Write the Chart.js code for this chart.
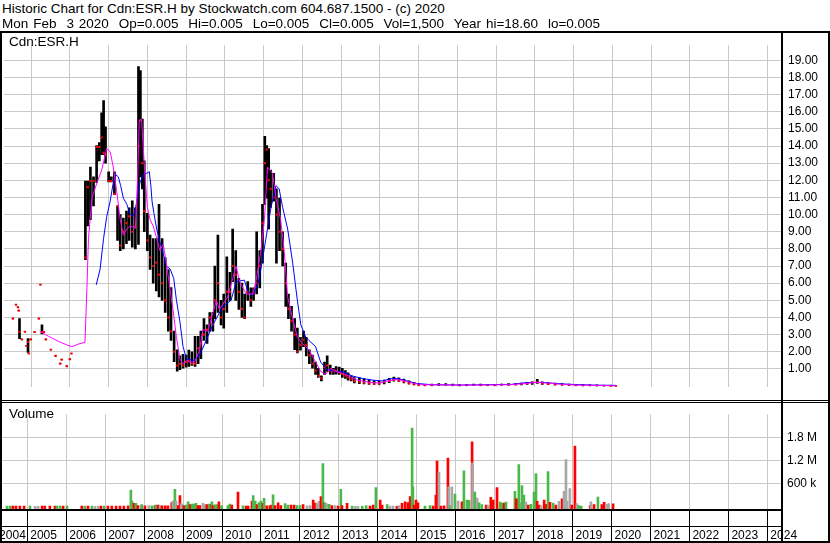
<!DOCTYPE html>
<html>
<head>
<meta charset="utf-8">
<script src="https://cdn.jsdelivr.net/npm/chart.js@4.4.1/dist/chart.umd.min.js"></script>
<style>
  body { margin: 0; background: #fff; }
  #page { position: relative; width: 830px; height: 543px; overflow: hidden; font-family: "Liberation Sans", Arial, sans-serif; }
  .txt { position: absolute; font-size: 13.5px; line-height: 15px; white-space: pre; color: #000; }
  canvas { position: absolute; left: 0; }
  .ln { position: absolute; background: #000; }
</style>
</head>
<body>
<div id="page">
  <canvas id="priceChart" width="830" height="368" style="top:32px"></canvas>
  <canvas id="volChart" width="830" height="141" style="top:402px"></canvas>
  <div class="txt" style="left:2px; top:1px">Historic Chart for Cdn:ESR.H by Stockwatch.com 604.687.1500 - (c) 2020</div>
  <div class="txt" style="left:2px; top:16px; word-spacing:1.2px">Mon Feb  3 2020  Op=0.005  Hi=0.005  Lo=0.005  Cl=0.005  Vol=1,500  Year hi=18.60  lo=0.005</div>
  <div class="txt" style="left:9px; top:34px">Cdn:ESR.H</div>
  <div class="txt" style="left:9px; top:406px">Volume</div>
  <div class="ln" style="left:0; top:31px; width:830px; height:2px"></div>
  <div class="ln" style="left:0; top:31px; width:2px; height:512px"></div>
  <div class="ln" style="left:828px; top:31px; width:2px; height:512px"></div>
  <div class="ln" style="left:781px; top:31px; width:2px; height:511px"></div>
  <div class="ln" style="left:0; top:400px; width:830px; height:1px"></div>
  <div class="ln" style="left:0; top:402px; width:830px; height:1px"></div>
  <div class="ln" style="left:0; top:509px; width:783px; height:2px"></div>
  <div class="ln" style="left:0; top:526px; width:783px; height:1px"></div>
  <div class="ln" style="left:0; top:541px; width:830px; height:2px"></div>
</div>
<script>
// dates are decimal years
const barDate = [
  2004.53, 2004.61, 2004.66, 2004.68, 2004.70, 2004.76, 2004.84, 2004.88, 2004.92, 2004.94, 2004.99,
  2005.09, 2005.20, 2005.24, 2005.28, 2005.33, 2005.38, 2005.51, 2005.63, 2005.75, 2005.79, 2005.92,
  2006.00, 2006.04, 2006.40, 2006.46, 2006.53, 2006.61, 2006.69, 2006.76, 2006.82, 2006.87, 2006.92,
  2007.00, 2007.07, 2007.15, 2007.23, 2007.30, 2007.38, 2007.46, 2007.53, 2007.61, 2007.69, 2007.77,
  2007.82, 2007.87, 2007.92, 2008.00, 2008.07, 2008.15, 2008.23, 2008.30, 2008.38, 2008.46, 2008.54,
  2008.61, 2008.69, 2008.77, 2008.84, 2008.92, 2009.00, 2009.07, 2009.15, 2009.23, 2009.31, 2009.38,
  2009.46, 2009.54, 2009.61, 2009.69, 2009.74, 2009.82, 2009.90, 2009.97, 2010.05, 2010.13, 2010.20,
  2010.28, 2010.36, 2010.44, 2010.51, 2010.59, 2010.67, 2010.74, 2010.82, 2010.90, 2010.97, 2011.03,
  2011.08, 2011.13, 2011.18, 2011.26, 2011.33, 2011.41, 2011.49, 2011.57, 2011.64, 2011.72, 2011.80,
  2011.87, 2011.95, 2012.03, 2012.10, 2012.18, 2012.26, 2012.34, 2012.41, 2012.49, 2012.57, 2012.64,
  2012.72, 2012.80, 2012.87, 2012.95, 2013.03, 2013.11, 2013.18, 2013.26, 2013.34, 2013.47, 2013.59,
  2013.72, 2013.85, 2013.98, 2014.11, 2014.24, 2014.36, 2014.49, 2014.62, 2014.75, 2014.88, 2015.00,
  2015.16, 2015.34, 2015.52, 2015.70, 2015.88, 2016.06, 2016.24, 2016.42, 2016.60, 2016.78, 2016.96,
  2017.14, 2017.32, 2017.50, 2017.65, 2017.80, 2017.93, 2018.06, 2018.19, 2018.34, 2018.52, 2018.70,
  2018.88, 2019.06, 2019.24, 2019.42, 2019.60, 2019.78, 2019.96, 2020.09
];
const barHigh = [
  3.93, 4.74, 4.60, 4.40, 3.93, 2.72, 3.17, 2.34, 2.77, 1.90, 2.72,
  3.15, 3.93, 5.91, 3.57, 3.15, 2.72, 2.12, 1.76, 1.31, 1.54, 1.16,
  1.57, 1.90, 11.96, 11.96, 12.77, 12.20, 14.03, 14.20, 15.93, 16.65, 15.12,
  12.50, 12.20, 12.50, 10.50, 10.00, 9.80, 10.20, 10.40, 10.80, 10.40, 18.64,
  18.40, 15.57, 13.13, 10.08, 8.80, 8.60, 8.60, 10.60, 8.60, 7.50, 6.80,
  5.75, 3.20, 2.12, 1.76, 1.85, 1.80, 2.10, 2.00, 2.90, 2.90, 3.20,
  3.93, 3.57, 4.29, 4.30, 7.00, 8.80, 5.00, 5.37, 7.54, 6.63, 9.16,
  7.90, 6.29, 6.00, 5.37, 6.09, 5.73, 5.73, 9.00, 7.90, 10.60, 14.57,
  14.03, 13.85, 12.59, 12.41, 11.50, 10.96, 9.00, 7.17, 5.37, 4.65, 3.93,
  3.38, 2.84, 3.20, 2.84, 2.12, 1.80, 1.40, 1.04, 0.60, 1.40, 1.76,
  1.22, 1.04, 1.13, 1.10, 1.04, 0.90, 0.77, 0.60, 0.50, 0.48, 0.42,
  0.35, 0.30, 0.28, 0.35, 0.45, 0.52, 0.48, 0.40, 0.30, 0.22, 0.15,
  0.10, 0.12, 0.14, 0.15, 0.12, 0.10, 0.10, 0.12, 0.12, 0.10, 0.10,
  0.12, 0.15, 0.15, 0.18, 0.22, 0.25, 0.39, 0.25, 0.20, 0.17, 0.15,
  0.12, 0.10, 0.08, 0.07, 0.06, 0.05, 0.04, 0.005
];
const barLow = [
  3.93, 4.74, 4.60, 4.40, 2.76, 2.72, 3.17, 2.34, 1.96, 1.90, 2.72,
  3.15, 3.93, 5.91, 3.04, 3.15, 2.72, 2.12, 1.76, 1.31, 1.54, 1.16,
  1.57, 1.90, 7.37, 9.34, 9.70, 10.50, 11.87, 13.13, 13.50, 13.50, 13.00,
  11.90, 11.90, 11.16, 8.50, 7.90, 8.00, 8.30, 8.50, 8.10, 8.00, 8.26,
  12.20, 11.50, 9.00, 7.90, 6.80, 6.00, 5.55, 5.20, 5.00, 4.30, 3.20,
  2.66, 1.42, 0.87, 0.95, 1.04, 1.10, 1.15, 1.20, 1.15, 1.30, 1.60,
  2.66, 2.48, 3.20, 3.20, 3.93, 4.29, 3.57, 3.38, 4.29, 5.00, 6.09,
  5.00, 4.47, 4.00, 3.93, 5.00, 4.65, 5.00, 5.37, 5.73, 7.17, 10.60,
  10.96, 9.16, 10.42, 10.78, 7.17, 7.90, 7.00, 4.65, 3.93, 3.20, 2.12,
  1.94, 2.10, 2.30, 1.76, 1.30, 1.04, 0.68, 0.50, 0.30, 0.68, 0.86,
  0.68, 0.68, 0.70, 0.68, 0.50, 0.45, 0.35, 0.30, 0.18, 0.14, 0.12,
  0.10, 0.10, 0.10, 0.12, 0.20, 0.28, 0.25, 0.18, 0.12, 0.08, 0.05,
  0.03, 0.03, 0.04, 0.05, 0.04, 0.03, 0.03, 0.04, 0.04, 0.04, 0.04,
  0.05, 0.05, 0.06, 0.07, 0.10, 0.10, 0.15, 0.10, 0.08, 0.06, 0.05,
  0.04, 0.03, 0.02, 0.02, 0.01, 0.01, 0.005, 0.005
];
const barClose = [
  3.93, 4.74, 4.60, 4.40, 3.17, 2.72, 3.17, 2.34, 2.57, 1.90, 2.72,
  3.15, 3.93, 5.91, 3.15, 3.15, 2.72, 2.12, 1.76, 1.31, 1.54, 1.16,
  1.57, 1.90, 7.50, 11.60, 11.96, 11.96, 13.94, 13.94, 14.50, 13.60, 13.50,
  11.96, 11.96, 11.20, 10.50, 8.20, 9.00, 9.50, 9.90, 9.00, 9.30, 14.00,
  15.50, 13.00, 10.20, 8.50, 7.50, 7.00, 7.20, 6.50, 6.00, 5.00, 4.00,
  3.20, 2.00, 1.20, 1.30, 1.20, 1.40, 1.50, 1.30, 1.30, 2.20, 2.50,
  3.00, 3.30, 4.00, 3.60, 5.00, 6.00, 4.00, 4.50, 5.50, 5.50, 7.00,
  6.50, 5.50, 4.50, 4.00, 5.50, 5.00, 5.40, 6.00, 7.00, 9.50, 13.00,
  13.80, 12.00, 11.50, 11.00, 10.00, 9.00, 8.00, 6.00, 4.50, 3.80, 3.00,
  2.00, 2.40, 2.70, 2.40, 1.80, 1.30, 0.90, 0.60, 0.45, 1.10, 1.20,
  0.90, 0.85, 0.90, 0.80, 0.70, 0.60, 0.50, 0.40, 0.30, 0.25, 0.20,
  0.15, 0.12, 0.15, 0.25, 0.30, 0.35, 0.30, 0.25, 0.15, 0.10, 0.06,
  0.05, 0.05, 0.06, 0.08, 0.05, 0.04, 0.05, 0.06, 0.05, 0.05, 0.05,
  0.08, 0.08, 0.10, 0.12, 0.15, 0.20, 0.22, 0.15, 0.12, 0.10, 0.08,
  0.06, 0.05, 0.04, 0.03, 0.03, 0.02, 0.01, 0.005
];

// short moving average (magenta)
const fastDate = [
  2005.22, 2005.45, 2005.71, 2005.92, 2006.05, 2006.22, 2006.39, 2006.44, 2006.48, 2006.57,
  2006.70, 2006.82, 2006.95, 2007.04, 2007.12, 2007.21, 2007.30, 2007.38, 2007.47, 2007.55,
  2007.64, 2007.69, 2007.75, 2007.79, 2007.85, 2007.89, 2007.94, 2008.00, 2008.07, 2008.15,
  2008.24, 2008.32, 2008.41, 2008.49, 2008.58, 2008.66, 2008.75, 2008.84, 2008.92, 2009.01,
  2009.09, 2009.22, 2009.35, 2009.43, 2009.56, 2009.78, 2009.86, 2010.07, 2010.29, 2010.38,
  2010.55, 2010.72, 2010.80, 2010.93, 2011.02, 2011.10, 2011.23, 2011.32, 2011.44, 2011.53,
  2011.62, 2011.75, 2011.87, 2012.00, 2012.17, 2012.34, 2012.47, 2012.60, 2012.73, 2012.86,
  2013.11, 2013.41, 2013.59, 2013.80, 2014.00, 2014.21, 2014.41, 2014.62, 2014.83, 2015.08,
  2015.85, 2016.62, 2017.39, 2017.78, 2018.03, 2018.29, 2018.68, 2019.19, 2019.70, 2020.09
];
const fastMa = [
  3.20, 2.90, 2.60, 2.40, 2.30, 2.45, 2.55, 5.75, 8.60, 10.96,
  11.87, 12.59, 13.85, 13.67, 12.77, 11.33, 9.70, 8.80, 9.16, 9.34,
  9.25, 9.20, 12.23, 15.48, 15.57, 14.03, 12.23, 10.42, 9.70, 9.34,
  8.62, 7.90, 8.26, 7.17, 5.73, 4.47, 2.84, 1.58, 1.30, 1.50,
  1.40, 1.40, 2.12, 3.30, 3.20, 5.00, 4.47, 5.19, 7.00, 6.09,
  5.37, 5.37, 6.09, 7.90, 9.70, 12.77, 12.41, 10.96, 9.70, 7.90,
  5.19, 3.93, 2.84, 2.48, 2.12, 1.40, 0.86, 0.68, 1.04, 0.86,
  0.68, 0.35, 0.28, 0.20, 0.18, 0.30, 0.38, 0.32, 0.18, 0.08,
  0.06, 0.06, 0.08, 0.15, 0.22, 0.18, 0.10, 0.05, 0.03, 0.01
];

// long moving average (blue)
const slowDate = [
  2006.68, 2006.78, 2006.87, 2006.95, 2007.04, 2007.12, 2007.19, 2007.25, 2007.31, 2007.38,
  2007.47, 2007.55, 2007.62, 2007.68, 2007.74, 2007.81, 2007.89, 2007.98, 2008.05, 2008.09,
  2008.12, 2008.17, 2008.24, 2008.32, 2008.41, 2008.49, 2008.59, 2008.68, 2008.75, 2008.84,
  2008.92, 2009.01, 2009.18, 2009.31, 2009.43, 2009.69, 2009.95, 2010.16, 2010.29, 2010.50,
  2010.59, 2010.72, 2010.85, 2010.93, 2011.06, 2011.19, 2011.32, 2011.40, 2011.49, 2011.62,
  2011.75, 2011.87, 2011.96, 2012.09, 2012.17, 2012.34, 2012.47, 2012.64, 2012.86, 2013.03,
  2013.28, 2013.54, 2013.80, 2014.06, 2014.26, 2014.44, 2014.70, 2014.95, 2015.34, 2016.11,
  2016.75, 2017.39, 2017.78, 2018.16, 2018.55, 2018.93, 2019.45, 2020.09
];
const slowMa = [
  5.90, 6.82, 8.62, 9.88, 10.78, 11.87, 12.32, 12.20, 11.69, 10.96,
  10.60, 10.06, 9.88, 10.20, 10.96, 11.87, 12.32, 12.41, 12.50, 11.69,
  10.78, 10.06, 9.16, 8.44, 7.71, 7.00, 6.82, 6.27, 5.00, 3.75,
  2.30, 1.58, 1.49, 1.67, 2.21, 3.57, 4.65, 5.00, 6.09, 6.18,
  5.55, 5.28, 5.91, 6.82, 8.62, 10.42, 11.69, 11.50, 10.42, 9.16,
  7.17, 5.00, 3.57, 2.84, 2.66, 2.30, 1.40, 0.95, 0.86, 0.86,
  0.59, 0.45, 0.35, 0.30, 0.42, 0.45, 0.30, 0.15, 0.08, 0.06,
  0.08, 0.10, 0.20, 0.22, 0.15, 0.10, 0.06, 0.04
];

// volume: u = up day, d = down day, n = unchanged
const volDate = [
  2004.48, 2004.56, 2004.63, 2004.71, 2004.81, 2004.92, 2005.07, 2005.20, 2005.28, 2005.38, 2005.45,
  2005.58, 2005.71, 2005.76, 2005.84, 2005.92, 2006.02, 2006.40, 2006.48, 2006.56, 2006.66, 2006.74,
  2006.82, 2006.89, 2006.97, 2007.07, 2007.17, 2007.28, 2007.38, 2007.48, 2007.59, 2007.66, 2007.69,
  2007.74, 2007.79, 2007.84, 2007.92, 2007.94, 2008.02, 2008.12, 2008.20, 2008.28, 2008.30, 2008.36,
  2008.41, 2008.46, 2008.54, 2008.61, 2008.71, 2008.74, 2008.79, 2008.82, 2008.87, 2008.92, 2008.95,
  2008.97, 2009.02, 2009.08, 2009.13, 2009.18, 2009.23, 2009.28, 2009.33, 2009.38, 2009.43, 2009.51,
  2009.56, 2009.61, 2009.67, 2009.72, 2009.74, 2009.77, 2009.82, 2009.87, 2009.92, 2009.99, 2010.15,
  2010.20, 2010.25, 2010.41, 2010.54, 2010.62, 2010.67, 2010.77, 2010.80, 2010.85, 2010.90, 2010.95,
  2011.00, 2011.05, 2011.08, 2011.15, 2011.23, 2011.28, 2011.31, 2011.36, 2011.44, 2011.51, 2011.62,
  2011.69, 2011.77, 2011.85, 2011.92, 2012.00, 2012.08, 2012.18, 2012.26, 2012.34, 2012.39, 2012.44,
  2012.49, 2012.54, 2012.59, 2012.62, 2012.64, 2012.69, 2012.75, 2012.82, 2012.90, 2012.98, 2013.05,
  2013.08, 2013.21, 2013.34, 2013.42, 2013.49, 2013.60, 2013.70, 2013.80, 2013.88, 2013.95, 2014.06,
  2014.11, 2014.24, 2014.31, 2014.39, 2014.49, 2014.54, 2014.62, 2014.70, 2014.77, 2014.83, 2014.88,
  2014.90, 2014.93, 2014.98, 2015.03, 2015.21, 2015.34, 2015.42, 2015.49, 2015.52, 2015.57, 2015.62,
  2015.70, 2015.80, 2015.82, 2015.85, 2015.90, 2015.98, 2016.06, 2016.16, 2016.21, 2016.29, 2016.34,
  2016.42, 2016.43, 2016.47, 2016.49, 2016.55, 2016.60, 2016.67, 2016.78, 2016.83, 2016.90, 2016.96,
  2017.06, 2017.14, 2017.19, 2017.24, 2017.29, 2017.52, 2017.55, 2017.60, 2017.62, 2017.68, 2017.70,
  2017.75, 2017.80, 2017.86, 2017.93, 2018.01, 2018.06, 2018.09, 2018.14, 2018.19, 2018.27, 2018.32,
  2018.37, 2018.42, 2018.50, 2018.57, 2018.65, 2018.73, 2018.78, 2018.83, 2018.86, 2018.93, 2018.98,
  2019.06, 2019.11, 2019.16, 2019.22, 2019.45, 2019.47, 2019.55, 2019.65, 2019.75, 2019.81, 2019.88,
  2019.93, 2020.04
];
const volume = [
  15000, 15000, 12000, 12000, 12000, 12000, 15000, 10000, 10000, 12000, 12000,
  12000, 12000, 15000, 15000, 12000, 15000, 15000, 15000, 12000, 15000, 10000,
  10000, 12000, 15000, 15000, 15000, 15000, 15000, 15000, 20000, 429000, 145000,
  83000, 83000, 30000, 35000, 50000, 20000, 25000, 20000, 25000, 40000, 40000,
  25000, 20000, 20000, 20000, 106000, 145000, 452000, 145000, 30000, 284000, 80000,
  50000, 25000, 40000, 122000, 50000, 69000, 69000, 83000, 30000, 30000, 83000,
  50000, 50000, 69000, 50000, 122000, 30000, 46000, 53000, 122000, 30000, 30000,
  69000, 40000, 376000, 20000, 15000, 15000, 145000, 284000, 145000, 50000, 106000,
  145000, 83000, 215000, 20000, 30000, 40000, 307000, 30000, 99000, 30000, 76000,
  40000, 40000, 40000, 30000, 30000, 50000, 20000, 30000, 168000, 90000, 80000,
  138000, 261000, 1120000, 90000, 100000, 70000, 60000, 25000, 30000, 15000, 452000,
  30000, 83000, 15000, 10000, 10000, 10000, 30000, 15000, 40000, 492000, 168000,
  40000, 50000, 15000, 15000, 10000, 30000, 83000, 122000, 106000, 261000, 2040000,
  515000, 40000, 168000, 100000, 15000, 25000, 15000, 300000, 1180000, 891000, 15000,
  20000, 1260000, 515000, 30000, 515000, 323000, 145000, 122000, 930000, 168000, 160000,
  1680000, 1140000, 376000, 376000, 222000, 100000, 50000, 40000, 30000, 238000, 168000,
  492000, 120000, 90000, 90000, 120000, 399000, 199000, 200000, 1090000, 100000, 545000,
  300000, 120000, 40000, 60000, 376000, 861000, 140000, 40000, 20000, 168000, 60000,
  907000, 110000, 90000, 40000, 140000, 199000, 399000, 1220000, 140000, 469000, 40000,
  1570000, 80000, 30000, 15000, 30000, 122000, 50000, 245000, 50000, 110000, 60000,
  80000, 70000
];
const volDir = [
  'u', 'u', 'd', 'd', 'd', 'd', 'u', 'n', 'n', 'd', 'd',
  'd', 'd', 'u', 'u', 'd', 'u', 'd', 'u', 'd', 'u', 'n',
  'n', 'd', 'u', 'd', 'd', 'd', 'd', 'd', 'd', 'u', 'u',
  'd', 'u', 'd', 'n', 'u', 'd', 'n', 'u', 'd', 'u', 'd',
  'n', 'd', 'd', 'd', 'd', 'n', 'u', 'n', 'd', 'd', 'n',
  'n', 'd', 'u', 'u', 'd', 'u', 'u', 'u', 'd', 'd', 'n',
  'n', 'd', 'u', 'd', 'u', 'd', 'u', 'u', 'd', 'u', 'u',
  'u', 'd', 'd', 'u', 'd', 'd', 'd', 'u', 'u', 'd', 'u',
  'u', 'd', 'u', 'd', 'd', 'd', 'u', 'd', 'd', 'd', 'u',
  'u', 'd', 'd', 'u', 'u', 'd', 'n', 'n', 'd', 'd', 'n',
  'n', 'd', 'u', 'd', 'u', 'n', 'u', 'd', 'n', 'd', 'u',
  'd', 'd', 'u', 'n', 'n', 'u', 'u', 'd', 'd', 'u', 'd',
  'd', 'u', 'n', 'n', 'd', 'n', 'd', 'd', 'd', 'd', 'u',
  'u', 'd', 'd', 'd', 'u', 'u', 'd', 'd', 'd', 'n', 'd',
  'd', 'd', 'n', 'u', 'n', 'u', 'n', 'd', 'u', 'u', 'u',
  'd', 'n', 'n', 'u', 'n', 'u', 'u', 'd', 'n', 'd', 'd',
  'd', 'u', 'u', 'd', 'u', 'u', 'd', 'd', 'u', 'n', 'u',
  'u', 'n', 'd', 'u', 'u', 'u', 'd', 'd', 'n', 'd', 'd',
  'u', 'd', 'u', 'd', 'n', 'd', 'n', 'n', 'n', 'n', 'd',
  'd', 'n', 'u', 'u', 'd', 'n', 'd', 'u', 'd', 'd', 'n',
  'n', 'd'
];

const yearTicks = [2004, 2005, 2006, 2007, 2008, 2009, 2010, 2011, 2012, 2013, 2014,
  2015, 2016, 2017, 2018, 2019, 2020, 2021, 2022, 2023, 2024];
const yearLabels = yearTicks.map(String);
const priceTicks = [1, 2, 3, 4, 5, 6, 7, 8, 9, 10, 11, 12, 13, 14, 15, 16, 17, 18, 19];
const priceTickLabels = ['1.00', '2.00', '3.00', '4.00', '5.00', '6.00', '7.00', '8.00', '9.00', '10.00',
  '11.00', '12.00', '13.00', '14.00', '15.00', '16.00', '17.00', '18.00', '19.00'];
const volTicks = [600000, 1200000, 1800000];
const volTickLabels = ['600 k', '1.2 M', '1.8 M'];

const X_MIN = 2004.3;
const X_MAX = 2024.376;
const PRICE_MIN = -0.043;
const PRICE_MAX = 19.88;
const VOL_MIN = -62000;
const VOL_MAX = 2400000;

const GRID = '#c8c8c8';
const DIR_COLOR = { u: '#4cb84c', d: '#ff0000', n: '#a8a8a8' };

Chart.defaults.font.family = '"Liberation Sans", Arial, sans-serif';
Chart.defaults.font.size = 12;
Chart.defaults.color = '#000';

const commonOptions = {
  responsive: false,
  animation: false,
  events: [],
  layout: { padding: 0 },
  plugins: { legend: { display: false }, tooltip: { enabled: false } }
};

const priceChart = new Chart(document.getElementById('priceChart'), {
  type: 'bar',
  data: {
    datasets: [
      {
        type: 'line',
        data: fastDate.map((d, i) => ({ x: d, y: fastMa[i] })),
        borderColor: '#ff00ff',
        borderWidth: 1,
        pointRadius: 0,
        order: 0
      },
      {
        type: 'line',
        data: slowDate.map((d, i) => ({ x: d, y: slowMa[i] })),
        borderColor: '#0000ff',
        borderWidth: 1,
        pointRadius: 0,
        order: 0
      },
      {
        type: 'scatter',
        data: barDate.map((d, i) => ({ x: d, y: barClose[i] })),
        backgroundColor: '#ff0000',
        pointStyle: 'rect',
        pointRadius: 1.5,
        borderWidth: 0,
        order: 1
      },
      {
        type: 'bar',
        data: barDate.map((d, i) => ({ x: d, y: [barLow[i], barHigh[i]] })),
        backgroundColor: '#000',
        barThickness: 2,
        order: 2
      }
    ]
  },
  options: {
    ...commonOptions,
    scales: {
      x: {
        type: 'linear', min: X_MIN, max: X_MAX, offset: false,
        grid: { color: GRID, drawTicks: false, offset: false },
        border: { display: false },
        ticks: { display: false },
        afterBuildTicks: s => { s.ticks = yearTicks.slice(1).map(v => ({ value: v })); },
        afterFit: s => { s.height = 0; }
      },
      y: {
        type: 'linear', position: 'right', min: PRICE_MIN, max: PRICE_MAX,
        grid: { color: GRID, drawTicks: false },
        border: { display: false },
        ticks: { padding: 6, callback: (v, i) => priceTickLabels[i] },
        afterBuildTicks: s => { s.ticks = priceTicks.map(v => ({ value: v })); },
        afterFit: s => { s.width = 48; }
      }
    }
  }
});

const volChart = new Chart(document.getElementById('volChart'), {
  type: 'bar',
  data: {
    datasets: [{
      data: volDate.map((d, i) => ({ x: d, y: volume[i] })),
      backgroundColor: volDir.map(k => DIR_COLOR[k]),
      base: VOL_MIN,
      barThickness: 2
    }]
  },
  options: {
    ...commonOptions,
    scales: {
      x: {
        type: 'linear', min: X_MIN, max: X_MAX, offset: false,
        grid: { color: GRID, offset: false, tickColor: '#000', tickLength: 33 },
        border: { display: false },
        ticks: {
          autoSkip: false, maxRotation: 0, align: 'start', labelOffset: 3, padding: -14,
          callback: (v, i) => yearLabels[i]
        },
        // the first label is pinned to the left edge of the plot
        afterBuildTicks: s => { s.ticks = yearTicks.map(v => ({ value: Math.max(v, X_MIN - 0.1) })); },
        afterFit: s => { s.height = 34; }
      },
      y: {
        type: 'linear', position: 'right', min: VOL_MIN, max: VOL_MAX,
        grid: { color: GRID, drawTicks: false },
        border: { display: false },
        ticks: { padding: 5, callback: (v, i) => volTickLabels[i] },
        afterBuildTicks: s => { s.ticks = volTicks.map(v => ({ value: v })); },
        afterFit: s => { s.width = 48; }
      }
    }
  }
});
</script>
</body>
</html>
